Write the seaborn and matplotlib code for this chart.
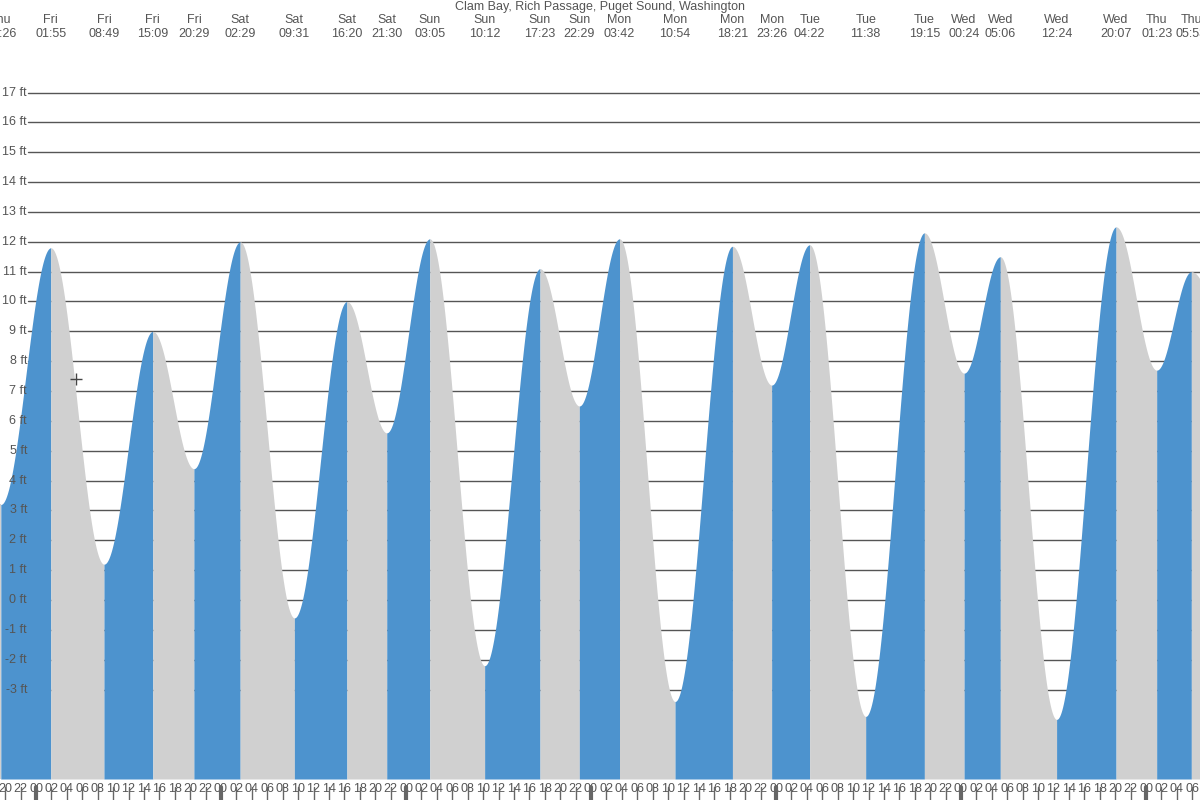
import numpy as np
import pandas as pd
import matplotlib
matplotlib.use("Agg")
import matplotlib.pyplot as plt
import seaborn as sns

TITLE = "Clam Bay, Rich Passage, Puget Sound, Washington"

# tide extremes: hours from Fri 00:00, height in ft
ext_day   = ["Thu", "Fri", "Fri", "Fri", "Fri", "Sat", "Sat", "Sat", "Sat",
             "Sun", "Sun", "Sun", "Sun", "Mon", "Mon", "Mon", "Mon",
             "Tue", "Tue", "Tue", "Wed", "Wed", "Wed", "Wed", "Thu", "Thu"]
ext_label = ["19:26", "01:55", "08:49", "15:09", "20:29", "02:29", "09:31", "16:20", "21:30",
             "03:05", "10:12", "17:23", "22:29", "03:42", "10:54", "18:21", "23:26",
             "04:22", "11:38", "19:15", "00:24", "05:06", "12:24", "20:07", "01:23", "05:53"]
ext_dayidx = [-1, 0, 0, 0, 0, 1, 1, 1, 1, 2, 2, 2, 2, 3, 3, 3, 3,
              4, 4, 4, 5, 5, 5, 5, 6, 6]
ext_height = [3.2, 11.8, 1.2, 9.0, 4.4, 12.0, -0.6, 10.0, 5.6,
              12.1, -2.2, 11.1, 6.5, 12.1, -3.4, 11.85, 7.2,
              11.9, -3.9, 12.3, 7.6, 11.5, -4.0, 12.5, 7.7, 11.0]

def to_hours(d, s):
    hh, mm = s.split(":")
    return d * 24 + int(hh) + int(mm) / 60

ext_t = [to_hours(d, s) for d, s in zip(ext_dayidx, ext_label)]
df = pd.DataFrame({"day": ext_day, "label": ext_label, "t": ext_t, "h": ext_height})

BLUE = "#4d93ce"
GREY = "#d0d0d0"
TXT = "#555555"

sns.set_style("white")
plt.rcParams["font.family"] = ["Liberation Sans", "DejaVu Sans"]

fig = plt.figure(figsize=(12, 8), dpi=100)
ax = fig.add_axes([0, 0, 1, 1])
PX_H = 185 / 24.0
X0 = -36 / PX_H
X1 = X0 + 1200 / PX_H
PX_FT = 29.85
Y_TOP = 600 / PX_FT
Y_BOT = -200 / PX_FT
ax.set_xlim(X0, X1)
ax.set_ylim(Y_BOT, Y_TOP)
ax.axis("off")

# gridlines
for ft in range(-3, 18):
    ax.plot([28 / PX_H + X0, X1], [ft, ft], color="#555555", lw=1, zorder=1)
    ax.text(27 / PX_H + X0, ft, f"{ft} ft", ha="right", va="center",
            fontsize=9, color=TXT, zorder=5)

# tide curve, cosine between extremes
base = -179 / PX_FT
for i in range(len(df) - 1):
    t0, t1 = df.t[i], df.t[i + 1]
    h0, h1 = df.h[i], df.h[i + 1]
    tt = np.linspace(t0, t1, 80)
    hh = h0 + (h1 - h0) * (1 - np.cos(np.pi * (tt - t0) / (t1 - t0))) / 2
    col = BLUE if h1 > h0 else GREY
    ax.fill_between(tt, base, hh, color=col, lw=0, zorder=2)
# extend edges
tt = np.linspace(X0, df.t[0], 10)
ax.fill_between(tt, base, np.full_like(tt, df.h[0]), color=GREY, lw=0, zorder=2)
tt = np.linspace(df.t.iloc[-1], X1, 30)
span = 6.2
hh = df.h.iloc[-1] + (7.8 - df.h.iloc[-1]) * (1 - np.cos(np.pi * (tt - tt[0]) / span)) / 2
ax.fill_between(tt, base, hh, color=GREY, lw=0, zorder=2)

# marker
ax.plot([(76 - 36) / PX_H], [7.4], marker="+", color="#444444", ms=9, mew=1, zorder=6)

# top labels
ax.text(0.5, 1 - 7 / 800, TITLE, transform=ax.transAxes, ha="center", va="center",
        fontsize=9, color=TXT)
for _, r in df.iterrows():
    ax.text(r.t, Y_TOP - 20 / PX_FT, r.day, ha="center", va="center", fontsize=9, color=TXT)
    ax.text(r.t, Y_TOP - 34 / PX_FT, r.label, ha="center", va="center", fontsize=9, color=TXT)

# bottom hour ticks
for hr in range(-4, 152, 2):
    lab = f"{hr % 24:02d}"
    ax.text(hr, -(183 / PX_FT), lab, ha="center", va="top", fontsize=9, color=TXT, zorder=5)
    mid = hr % 24 == 0
    ax.plot([hr, hr], [-(787 - 600) / PX_FT, Y_BOT], color="#666666",
            lw=3 if mid else 1, zorder=5)

fig.savefig("out.png", dpi=100, facecolor="white")
